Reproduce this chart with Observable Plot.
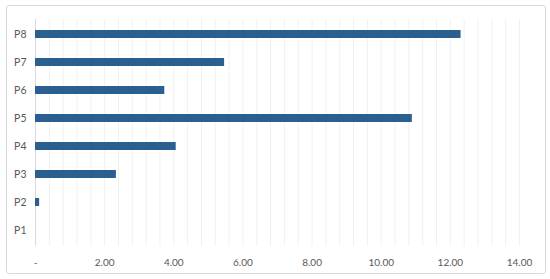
<!DOCTYPE html>
<html>
<head>
<meta charset="utf-8">
<script src="https://cdn.jsdelivr.net/npm/d3@7"></script>
<script src="https://cdn.jsdelivr.net/npm/@observablehq/plot@0.6"></script>
<style>
  html, body { margin: 0; padding: 0; background: #fff; }
  #wrap { position: relative; width: 550px; height: 279px; }
  #border { position: absolute; left: 6px; top: 5px; width: 538px; height: 267px; border: 1px solid #d9d9d9; border-radius: 3px; box-sizing: content-box; pointer-events: none; }
  #chart { position: absolute; left: 0; top: 0; }
</style>
</head>
<body>
<div id="wrap"><div id="border"></div><div id="chart"></div></div>
<script>
const categories = ["P1", "P2", "P3", "P4", "P5", "P6", "P7", "P8"];
const values = [0, 0.12, 2.34, 4.07, 10.90, 3.74, 5.47, 12.31];
const tickValues = [0, 2, 4, 6, 8, 10, 12, 14];
const gridValues = d3.range(0, 14.001, 0.4);

const data = categories.map((c, i) => ({category: c, value: values[i]}));

const fmt = d => d === 0 ? "-" : d3.format(".2f")(d);

const chart = Plot.plot({
  width: 550,
  height: 279,
  marginLeft: 35,
  marginRight: 31,
  marginTop: 19,
  marginBottom: 33,
  style: {fontFamily: "Lato, sans-serif", fontSize: "10px", color: "#595959", background: "transparent"},
  x: {domain: [0, 14], label: null},
  y: {domain: categories.slice().reverse(), label: null, paddingInner: 0.7, paddingOuter: 0.35},
  marks: [
    Plot.ruleX(gridValues, {stroke: "#f0f0f0", strokeWidth: 1}),
    Plot.ruleX([0], {stroke: "#d9d9d9"}),
    Plot.barX(data, {x: "value", y: "category", fill: "#2a5f91"}),
    Plot.axisX(tickValues, {tickSize: 0, tickPadding: 12, tickFormat: fmt, fill: "#595959"}),
    Plot.axisY({tickSize: 0, tickPadding: 9, fill: "#595959", fontSize: 10.5})
  ]
});
document.getElementById("chart").appendChild(chart);
</script>
</body>
</html>
